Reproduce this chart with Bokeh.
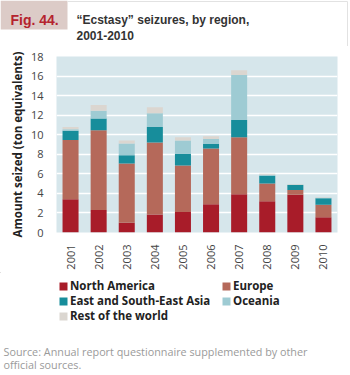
import math
from bokeh.plotting import figure
from bokeh.layouts import column
from bokeh.models import Legend, LegendItem, Range1d, SingleIntervalTicker, ColumnDataSource
from bokeh.core.properties import value
from bokeh.embed import file_html
from bokeh.resources import INLINE

years = ["2001", "2002", "2003", "2004", "2005", "2006", "2007", "2008", "2009", "2010"]
north_america = [3.4, 2.3, 1.0, 1.85, 2.1, 2.9, 3.9, 3.2, 3.85, 1.55]
europe = [6.05, 8.15, 6.05, 7.35, 4.75, 5.7, 5.85, 1.8, 0.5, 1.3]
east_se_asia = [0.95, 1.2, 0.85, 1.6, 1.2, 0.45, 1.75, 0.8, 0.5, 0.65]
oceania = [0.15, 0.8, 1.2, 1.4, 1.35, 0.5, 4.6, 0.1, 0.05, 0.05]
rest_of_world = [0.25, 0.6, 0.3, 0.6, 0.35, 0.3, 0.5, 0.1, 0.07, 0.05]

series_keys = ["na", "eu", "ea", "oc", "rw"]
series_labels = ["North America", "Europe", "East and South-East Asia", "Oceania", "Rest of the world"]
colors = ["#a81c29", "#b5695a", "#178d9b", "#9ecbd3", "#dbd6d0"]

title_lines = ["\u201cEcstasy\u201d seizures, by region,", "2001-2010"]
fig_label = "Fig. 44."
y_label = "Amount seized (ton equivalents)"
source_lines = ["Source: Annual report questionnaire supplemented by other", "official sources."]

data = dict(year=years, na=north_america, eu=europe, ea=east_se_asia, oc=oceania, rw=rest_of_world)

W = 350
BORDER = "#e2e2e2"


def blank_fig(h):
    f = figure(width=W, height=h, x_range=Range1d(0, W), y_range=Range1d(h, 0),
               output_backend="svg", toolbar_location=None, x_axis_type=None, y_axis_type=None,
               min_border=0, min_border_left=0, min_border_right=0, min_border_top=0, min_border_bottom=0,
               frame_align=False)
    f.grid.visible = False
    f.outline_line_color = None
    f.background_fill_color = "white"
    f.border_fill_color = "white"
    return f


# ---------- header ----------
HH = 46
hdr = blank_fig(HH)
hdr.quad(left=[0], right=[67], top=[0], bottom=[29], fill_color="#dccbc7", line_color=None)
hdr.segment(x0=[67, 347], y0=[1, 1], x1=[347, 347], y1=[1, HH], line_color=BORDER, line_width=1)
hdr.text(x=[10], y=[19], text=[fig_label], text_font=value("Liberation Sans"), text_font_style="bold",
         text_font_size="14px", text_color="#b5232e", text_baseline="alphabetic")
hdr.text(x=[76, 76], y=[19, 35], text=title_lines, text_font=value("Liberation Sans"),
         text_font_style="bold", text_font_size="12px", text_color="#333333", text_baseline="alphabetic")

# ---------- main chart ----------
MH = 226
p = figure(width=W, height=MH, x_range=years, y_range=(0, 18),
           output_backend="svg", toolbar_location=None, frame_align=False,
           min_border_left=56, min_border_right=13, min_border_top=10, min_border_bottom=38)
p.background_fill_color = "#d6e6eb"
p.border_fill_color = "white"
p.outline_line_color = None

rs = p.vbar_stack(series_keys, x="year", width=0.57, color=colors, line_color=None, source=data)

p.xgrid.grid_line_color = None
p.ygrid.grid_line_color = "white"
p.ygrid.grid_line_width = 1.5
p.ygrid.ticker = SingleIntervalTicker(interval=2)
p.yaxis.ticker = SingleIntervalTicker(interval=2)
p.x_range.range_padding = 0

for ax in (p.xaxis[0], p.yaxis[0]):
    ax.axis_line_color = None
    ax.major_tick_line_color = None
    ax.minor_tick_line_color = None
    ax.major_label_text_font = "Open Sans"
    ax.major_label_text_font_size = "11px"
    ax.major_label_text_color = "#444444"

p.yaxis.major_label_standoff = 7
p.xaxis.major_label_standoff = 6
p.xaxis.major_label_orientation = math.pi / 2
p.yaxis.axis_label = y_label
p.yaxis.axis_label_text_font = "Open Sans"
p.yaxis.axis_label_text_font_style = "bold"
p.yaxis.axis_label_text_font_size = "11.5px"
p.yaxis.axis_label_text_color = "#222222"
p.yaxis.axis_label_standoff = 3

# ---------- legend + source ----------
LH = 375 - HH - MH
lf = blank_fig(LH)
# invisible proxy renderers (one point far outside the visible range) that carry the legend swatch colours
proxy = ColumnDataSource(dict(x=[-1000], top=[-1000]))
dummies = [lf.vbar(x="x", top="top", bottom=-1001, width=1, fill_color=c, line_color=None, source=proxy)
           for c in colors]


def make_legend(idx, x, y_top, rows):
    items = [LegendItem(label=series_labels[i], renderers=[dummies[i]]) for i in idx]
    h = rows * 15
    lg = Legend(items=items, location=(x, LH - (y_top + h)), orientation="vertical",
                glyph_width=10, glyph_height=10, label_height=14, label_standoff=2, spacing=-1,
                padding=0, margin=0, border_line_color=None, background_fill_alpha=0,
                label_text_font="Open Sans", label_text_font_style="bold", label_text_font_size="11.5px",
                label_text_color="#222222")
    lf.add_layout(lg, "center")


make_legend([0, 2, 4], 58, 6, 3)
make_legend([1, 3], 221, 6, 2)

lf.text(x=[3, 3], y=[79, 92], text=source_lines, text_font=value("Open Sans"), text_font_size="10.8px",
        text_color="#9a9a9a", text_baseline="middle")

layout = column(hdr, p, lf, spacing=0)
open("out.html", "w").write(file_html(layout, INLINE))
